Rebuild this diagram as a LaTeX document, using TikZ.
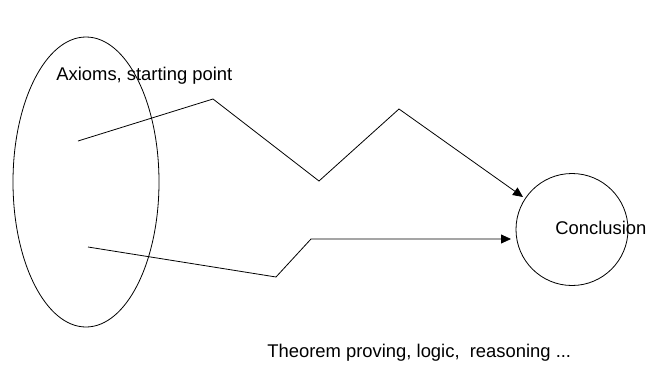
\documentclass[tikz,border=0pt]{standalone}
\usepackage{fontspec}
\setmainfont{Liberation Sans}
\usetikzlibrary{shapes.geometric,arrows.meta}
\begin{document}
\begin{tikzpicture}[x=1pt,y=-1pt,
  every path/.style={line width=0.8pt},
  lbl/.style={anchor=base west,inner sep=0pt,font=\fontsize{18.4}{22}\selectfont},
  conn/.style={draw,-{Triangle[length=10pt,width=9pt]}},
  shp/.style={draw,inner sep=0pt}]
\useasboundingbox (0,0) rectangle (646,370);
\node[shp,ellipse,minimum width=146pt,minimum height=290pt] (ax) at (86,182) {};
\node[shp,circle,minimum size=112pt] (con) at (572,229.5) {};
\node[lbl] (axt) at (56,80) {Axioms, starting point};
\node[lbl] (cont) at (555,234) {Conclusion};
\node[lbl] (tht) at (267,357.5) {Theorem proving, logic,\ \ reasoning ...};
\coordinate (a1) at (78,141);
\coordinate (a2) at (213,99);
\coordinate (a3) at (319,181);
\coordinate (a4) at (399,109);
\coordinate (a5) at (523,197);
\coordinate (b1) at (88,247);
\coordinate (b2) at (276,277);
\coordinate (b3) at (311,239);
\coordinate (b4) at (511,239);
\path[conn] (a1) -- (a2) -- (a3) -- (a4) -- (a5);
\path[conn] (b1) -- (b2) -- (b3) -- (b4);
\end{tikzpicture}
\end{document}
